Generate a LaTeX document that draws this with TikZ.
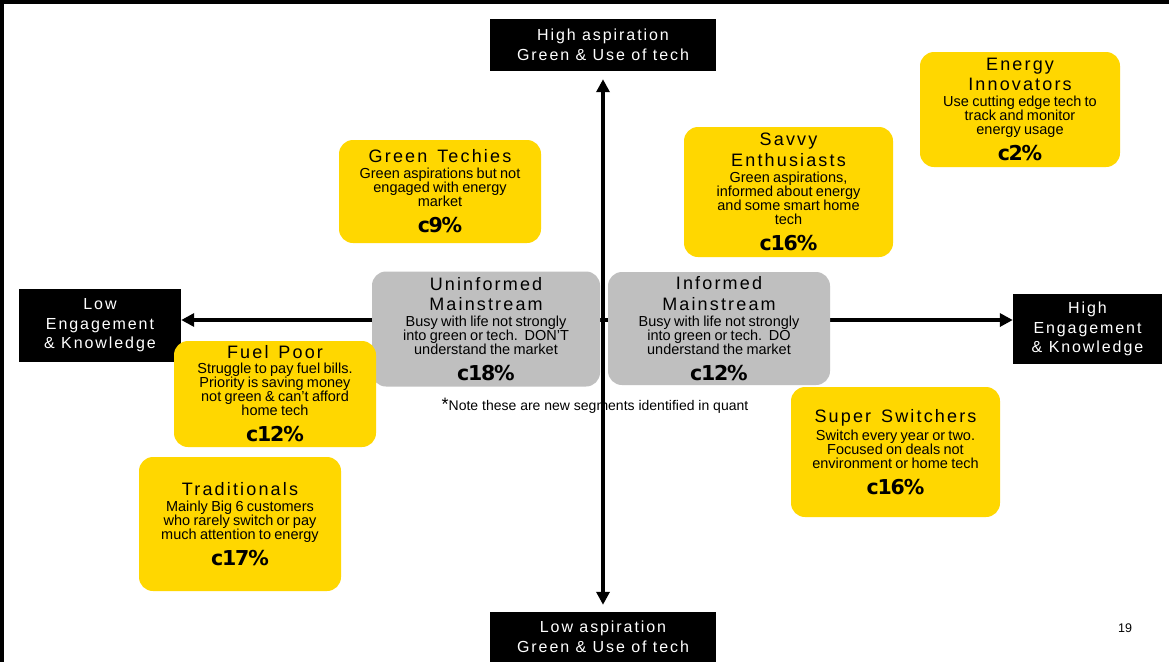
\documentclass[tikz,border=0pt]{standalone}
\usepackage{fontspec}
\setmainfont{Liberation Sans}
\newfontfamily\spaced{Liberation Sans}[LetterSpace=12]
\newfontfamily\heavy{DejaVu Sans}[LetterSpace=-6]
\usetikzlibrary{arrows.meta}

\definecolor{segyellow}{RGB}{255,215,0}
\definecolor{seggrey}{RGB}{191,191,191}

\newcommand\segtitle{\spaced\fontsize{18}{20.5}\selectfont\spaceskip=.55em\relax}
\newcommand\segtext{\fontsize{14.5}{14}\selectfont}
\newcommand\segshare{\heavy\bfseries\fontsize{20.5}{26}\selectfont}

\begin{document}
\begin{tikzpicture}[x=1pt,y=-1pt,
  seg/.style={fill=segyellow,rounded corners=14pt,inner sep=0pt,align=center},
  mainseg/.style={seg,fill=seggrey},
  pole/.style={fill=black,text=white,inner sep=0pt,align=center,
    font=\spaced\fontsize{16}{19.5}\selectfont},
  axis/.style={line width=3.5pt,{Triangle[length=13pt,width=13pt]}-{Triangle[length=13pt,width=13pt]}}]
  \useasboundingbox (0,0) rectangle (1169,662);
  \fill[white] (0,0) rectangle (1169,662);
  \fill[black] (0,0) rectangle (1169,4);
  \fill[black] (0,0) rectangle (4,662);

  % poles of the two axes
  \node[pole,minimum width=226pt,minimum height=52pt] (highasp) at (603,45) {High aspiration\\Green \& Use of tech};
  \node[pole,minimum width=226pt,minimum height=50pt] (lowasp) at (603,637) {Low aspiration\\Green \& Use of tech};
  \node[pole,minimum width=162pt,minimum height=73pt] (loweng) at (100,325.5) {Low\\Engagement\\\& Knowledge};
  \node[pole,minimum width=149pt,minimum height=70pt] (higheng) at (1087.5,329) {High\\Engagement\\\& Knowledge};
  \coordinate (origin) at (603,320);

  \draw[axis,shorten <=8pt,shorten >=7pt] (highasp.south) -- (lowasp.north);
  \draw[axis] (origin -| loweng.east) -- (origin -| higheng.west);

  % segments
  \node[seg,text width=202pt,minimum height=103pt] (techies) at (440,191.5)
    {{\segtitle Green Techies\par}\vspace{2pt}{\segtext Green aspirations but not\\engaged with energy\\market\par}{\segshare c9\%\par}};
  \node[seg,text width=209pt,minimum height=130pt] (savvy) at (788.5,192)
    {{\segtitle Savvy\\Enthusiasts\par}\vspace{2pt}{\segtext Green aspirations,\\informed about energy\\and some smart home\\tech\par}{\segshare c16\%\par}};
  \node[seg,text width=200pt,minimum height=115pt] (innov) at (1020,109.5)
    {{\segtitle Energy\\Innovators\par}\vspace{2pt}{\segtext Use cutting edge tech to\\track and monitor\\energy usage\par}{\segshare c2\%\par}};
  \node[mainseg,text width=228pt,minimum height=115pt] (uninf) at (486,329)
    {{\segtitle Uninformed\\Mainstream\par}\vspace{2pt}{\segtext Busy with life not strongly\\into green or tech.\ \ DON’T\\understand the market\par}{\segshare c18\%\par}};
  \node[mainseg,text width=222pt,minimum height=113pt] (inf) at (719,328.5)
    {{\segtitle Informed\\Mainstream\par}\vspace{2pt}{\segtext Busy with life not strongly\\into green or tech.\ \ DO\\understand the market\par}{\segshare c12\%\par}};
  \node[seg,text width=202pt,minimum height=106pt] (fuel) at (275,394)
    {{\segtitle Fuel Poor\par}\vspace{1pt}{\segtext Struggle to pay fuel bills.\\Priority is saving money\\not green \& can’t afford\\home tech\par}{\segshare c12\%\par}};
  \node[seg,text width=202pt,minimum height=134pt] (trad) at (240,524)
    {{\segtitle Traditionals\par}\vspace{2pt}{\segtext Mainly Big 6 customers\\who rarely switch or pay\\much attention to energy\par}{\segshare c17\%\par}};
  \node[seg,text width=209pt,minimum height=130pt] (switch) at (895.5,452)
    {{\segtitle Super Switchers\par}\vspace{2pt}{\segtext Switch every year or two.\\Focused on deals not\\environment or home tech\par}{\segshare c16\%\par}};

  \node[font=\fontsize{14}{14}\selectfont] (note) at (595,406) {{\fontsize{18}{18}\selectfont*}Note these are new segments identified in quant};
  \node[font=\fontsize{12.5}{13}\selectfont] (page) at (1125,628) {19};
\end{tikzpicture}
\end{document}
